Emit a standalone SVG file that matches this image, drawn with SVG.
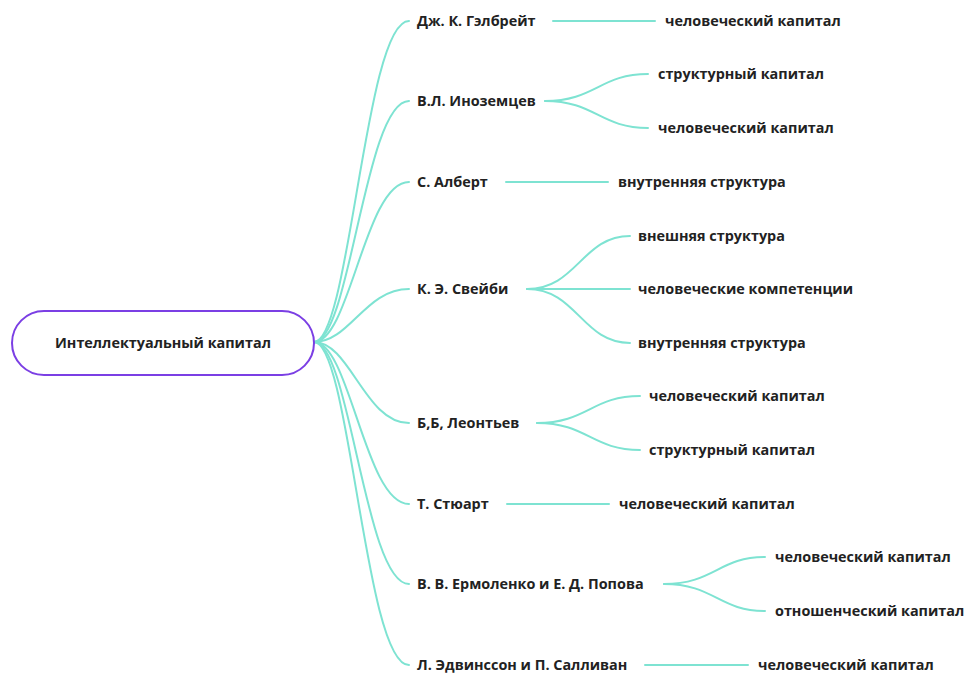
<svg xmlns="http://www.w3.org/2000/svg" width="966" height="673" viewBox="0 0 966 673">
<style>
text{font-family:"Open Sans","Noto Sans","Liberation Sans",sans-serif;font-weight:700;font-size:14.4px;fill:#222;dominant-baseline:central}
.c path{fill:none;stroke:#7ee3d2;stroke-width:2;stroke-linecap:round}
</style>
<rect width="966" height="673" fill="#fff"/>
<g class="c" id="connectors">
<path d="M276,343 L314,343"/>
<path d="M314,342 C350,342 365,21 409,21"/>
<path d="M314,342 C350,342 365,101 409,101"/>
<path d="M314,342 C350,342 365,182 409,182"/>
<path d="M314,342 C350,342 365,289 409,289"/>
<path d="M314,342 C350,342 365,423 409,423"/>
<path d="M314,342 C350,342 365,504 409,504"/>
<path d="M314,342 C350,342 365,584 409,584"/>
<path d="M314,342 C350,342 365,665 409,665"/>
<path d="M553,21 L655,21"/>
<path d="M545,101 C595,101 600,74 648,74"/>
<path d="M545,101 C595,101 600,128 648,128"/>
<path d="M506,182 L608,182"/>
<path d="M527,289 C577,289 582,236 630,236"/>
<path d="M527,289 L630,289"/>
<path d="M527,289 C577,289 582,343 630,343"/>
<path d="M537,423 C587,423 592,396 640,396"/>
<path d="M537,423 C587,423 592,450 640,450"/>
<path d="M507,504 L609,504"/>
<path d="M664,584 C714,584 719,557 765,557"/>
<path d="M664,584 C714,584 719,611 765,611"/>
<path d="M645,665 L748,665"/>
</g>
<g id="root">
<rect x="12" y="311" width="302" height="64" rx="32" ry="32" fill="#fff" stroke="#7b3fe4" stroke-width="2"/>
<text x="55" y="342.5">Интеллектуальный капитал</text>
</g>
<g id="n1"><text x="417" y="20.5">Дж. К. Гэлбрейт</text></g>
<g id="n1a"><text x="665" y="20.5">человеческий капитал</text></g>
<g id="n2"><text x="417" y="100.5">В.Л. Иноземцев</text></g>
<g id="n2a"><text x="658" y="73.5">структурный капитал</text></g>
<g id="n2b"><text x="658" y="127.5">человеческий капитал</text></g>
<g id="n3"><text x="417" y="181.5">С. Алберт</text></g>
<g id="n3a"><text x="618" y="181.5">внутренняя структура</text></g>
<g id="n4"><text x="417" y="288.5">К. Э. Свейби</text></g>
<g id="n4a"><text x="638" y="235.5">внешняя структура</text></g>
<g id="n4b"><text x="638" y="288.5">человеческие компетенции</text></g>
<g id="n4c"><text x="638" y="342.5">внутренняя структура</text></g>
<g id="n5"><text x="417" y="422.5">Б,Б, Леонтьев</text></g>
<g id="n5a"><text x="649" y="395.5">человеческий капитал</text></g>
<g id="n5b"><text x="649" y="449.5">структурный капитал</text></g>
<g id="n6"><text x="417" y="503.5">Т. Стюарт</text></g>
<g id="n6a"><text x="619" y="503.5">человеческий капитал</text></g>
<g id="n7"><text x="417" y="583.5">В. В. Ермоленко и Е. Д. Попова</text></g>
<g id="n7a"><text x="775" y="556.5">человеческий капитал</text></g>
<g id="n7b"><text x="775" y="610.5">отношенческий капитал</text></g>
<g id="n8"><text x="417" y="664.5">Л. Эдвинссон и П. Салливан</text></g>
<g id="n8a"><text x="758" y="664.5">человеческий капитал</text></g>
</svg>
